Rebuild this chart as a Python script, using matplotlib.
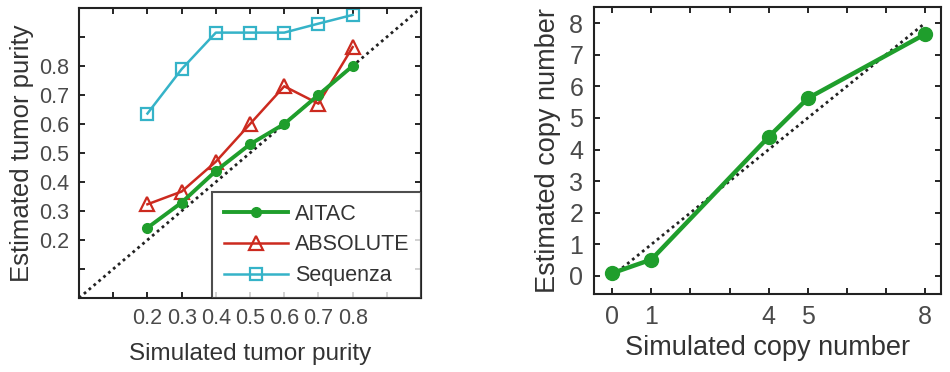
import matplotlib
matplotlib.use("Agg")
import matplotlib.pyplot as plt

plt.rcParams['font.family'] = ['Liberation Sans', 'DejaVu Sans']

# Left panel data
purity_sim = [0.2, 0.3, 0.4, 0.5, 0.6, 0.7, 0.8]
aitac_purity = [0.242, 0.329, 0.438, 0.53, 0.60, 0.70, 0.80]
absolute_purity = [0.323, 0.367, 0.47, 0.60, 0.73, 0.67, 0.865]
sequenza_purity = [0.636, 0.789, 0.915, 0.915, 0.915, 0.946, 0.976]
purity_ticklabels = ["0.2", "0.3", "0.4", "0.5", "0.6", "0.7", "0.8"]

# Right panel data
cn_sim = [0, 1, 4, 5, 8]
aitac_cn = [0.09, 0.52, 4.40, 5.62, 7.65]
cn_ticklabels = ["0", "1", "4", "5", "8"]

TXT = '#333333'
TICK = '#4a4a4a'
GREEN = '#1f9e2c'
RED = '#cc2a1f'
CYAN = '#35b3c8'

fig = plt.figure(figsize=(9.5, 3.72), dpi=100)

# ---------- Left panel ----------
ax1 = fig.add_axes([0.0832, 0.199, 0.36, 0.7796])
ax1.plot([0, 1], [0, 1], linestyle=(0, (1, 1.3)), color='#222222', linewidth=2.0, zorder=1)
ax1.plot(purity_sim, aitac_purity, color=GREEN, linewidth=2.8, marker='o',
         markersize=7, markerfacecolor=GREEN, markeredgecolor=GREEN, label='AITAC', zorder=3)
ax1.plot(purity_sim, absolute_purity, color=RED, linewidth=1.8, marker='^',
         markersize=10, markerfacecolor='none', markeredgecolor=RED, markeredgewidth=1.6,
         label='ABSOLUTE', zorder=2)
ax1.plot(purity_sim, sequenza_purity, color=CYAN, linewidth=1.8, marker='s',
         markersize=9, markerfacecolor='none', markeredgecolor=CYAN, markeredgewidth=1.6,
         label='Sequenza', zorder=2)
ax1.set_xlim(0, 1)
ax1.set_ylim(0, 1)
ticks = [0.1 * i for i in range(1, 10)]
ax1.set_xticks(ticks)
ax1.set_yticks(ticks)
ax1.set_xticklabels([''] + purity_ticklabels + [''])
ax1.set_yticklabels([''] + purity_ticklabels + [''])
ax1.tick_params(direction='in', top=True, right=True, length=4, width=1.2,
                labelsize=15.5, labelcolor=TICK, pad=7)
ax1.set_xlabel('Simulated tumor purity', fontsize=17.5, color=TXT, labelpad=10)
ax1.set_ylabel('Estimated tumor purity', fontsize=18.5, color=TXT, labelpad=4)
for s in ax1.spines.values():
    s.set_linewidth(1.5)
    s.set_color('#222222')
leg = ax1.legend(loc='lower right', bbox_to_anchor=(1.0, 0.0), borderaxespad=0.0,
                 fontsize=15.5, frameon=True, fancybox=False, edgecolor='#222222',
                 handlelength=3.0, labelspacing=0.45, borderpad=0.55, handletextpad=0.3)
for t in leg.get_texts():
    t.set_color(TXT)
leg.get_frame().set_linewidth(1.5)

# ---------- Right panel ----------
ax2 = fig.add_axes([0.6256, 0.2097, 0.3646, 0.7707])
ax2.plot([0, 8], [0, 8], linestyle=(0, (1, 1.3)), color='#222222', linewidth=2.0, zorder=1)
ax2.plot(cn_sim, aitac_cn, color=GREEN, linewidth=3.2, marker='o', markersize=10,
         markerfacecolor=GREEN, markeredgecolor=GREEN, zorder=3)
ax2.set_xlim(-0.46, 8.4)
ax2.set_ylim(-0.57, 8.5)
ax2.set_xticks(range(0, 9))
ax2.set_xticklabels([str(i) if str(i) in cn_ticklabels else '' for i in range(0, 9)])
ax2.set_yticks(range(0, 9))
ax2.tick_params(direction='in', top=True, right=True, length=4, width=1.2,
                labelsize=18, labelcolor=TICK, pad=8)
ax2.set_xlabel('Simulated copy number', fontsize=19.5, color=TXT, labelpad=4)
ax2.set_ylabel('Estimated copy number', fontsize=19.5, color=TXT, labelpad=6)
for s in ax2.spines.values():
    s.set_linewidth(1.5)
    s.set_color('#222222')

fig.savefig('out.png', dpi=100)
